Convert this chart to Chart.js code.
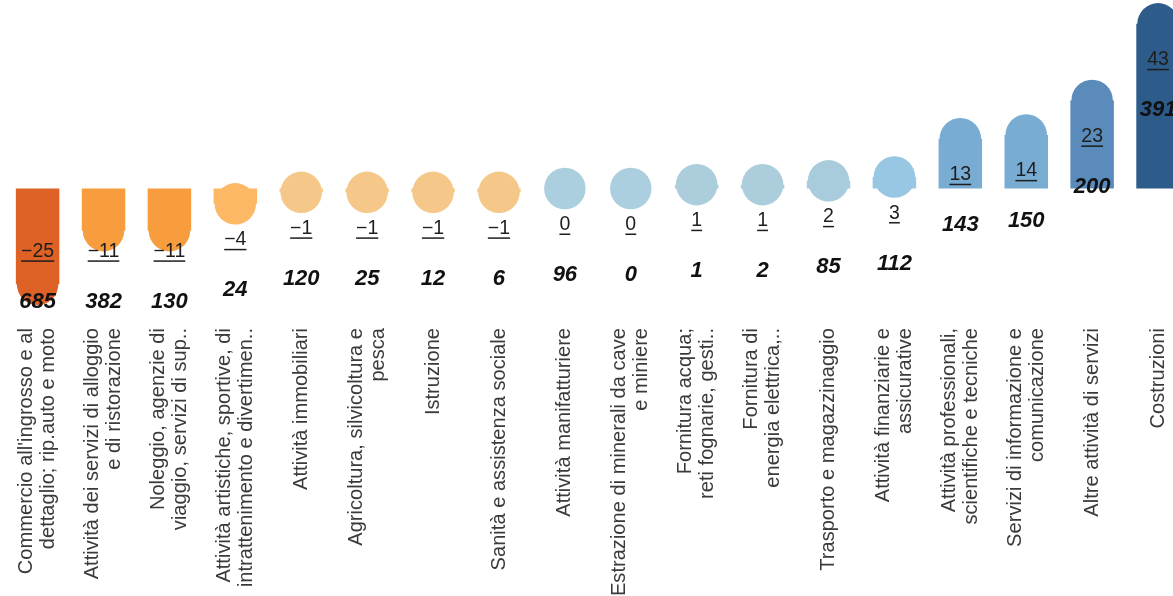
<!DOCTYPE html>
<html>
<head>
<meta charset="utf-8">
<script src="https://cdn.jsdelivr.net/npm/chart.js@4.4.1/dist/chart.umd.min.js"></script>
<style>
  html, body { margin: 0; padding: 0; overflow: hidden; background: #ffffff; }
  #wrap { width: 1191px; height: 596px; }
</style>
</head>
<body>
<div id="wrap"><canvas id="c" width="1191" height="596"></canvas></div>
<script>
// ---- data ----
const categories = [
  ["Commercio all'ingrosso e al", "dettaglio; rip.auto e moto"],
  ["Attività dei servizi di alloggio", "e di ristorazione"],
  ["Noleggio, agenzie di", "viaggio, servizi di sup.."],
  ["Attività artistiche, sportive, di", "intrattenimento e divertimen.."],
  ["Attività immobiliari"],
  ["Agricoltura, silvicoltura e", "pesca"],
  ["Istruzione"],
  ["Sanità e assistenza sociale"],
  ["Attività manifatturiere"],
  ["Estrazione di minerali da cave", "e miniere"],
  ["Fornitura acqua;", "reti fognarie, gesti.."],
  ["Fornitura di", "energia elettrica,.."],
  ["Trasporto e magazzinaggio"],
  ["Attività finanziarie e", "assicurative"],
  ["Attività professionali,", "scientifiche e tecniche"],
  ["Servizi di informazione e", "comunicazione"],
  ["Altre attività di servizi"],
  ["Costruzioni"]
];
const changes = [-25, -11, -11, -4, -1, -1, -1, -1, 0, 0, 1, 1, 2, 3, 13, 14, 23, 43];
const counts  = [685, 382, 130, 24, 120, 25, 12, 6, 96, 0, 1, 2, 85, 112, 143, 150, 200, 391];

// ---- styles ----
const palette = [
  '#DE6125', '#F79D3D', '#F79D3D', '#FDB866',
  '#F5C88A', '#F5C88A', '#F5C88A', '#F5C88A',
  '#ABCFDE', '#ABCFDE', '#ABCDDC', '#ABCDDC', '#A9CCDC', '#98C7E3',
  '#79ACD3', '#79ACD3', '#5A8BBB', '#2D5B8A'
];
const LABEL_FONT = '"Liberation Sans", Arial, sans-serif';

function fmt(v) { return v < 0 ? '\u2212' + Math.abs(v) : String(v); }

const labelsPlugin = {
  id: 'labelsPlugin',
  afterDatasetsDraw(chart) {
    const { ctx } = chart;
    const xs = chart.scales.x, ys = chart.scales.y;
    const clampPix = ys.getPixelForValue(-7);
    ctx.save();
    changes.forEach((v, i) => {
      const cx = xs.getPixelForValue(i);
      const anchor = Math.min(ys.getPixelForValue(v), clampPix);
      // underlined change label
      ctx.font = '19.5px ' + LABEL_FONT;
      ctx.fillStyle = '#1e1e1e';
      ctx.textAlign = 'center';
      ctx.textBaseline = 'alphabetic';
      const txt = fmt(v);
      const base = anchor + 41.5;
      ctx.fillText(txt, cx, base);
      const w = ctx.measureText(txt).width;
      ctx.fillRect(cx - w / 2, base + 3.5, w, 1.5);
      // bold italic count
      ctx.font = 'italic bold 22px ' + LABEL_FONT;
      ctx.fillStyle = '#111111';
      ctx.fillText(String(counts[i]), cx, anchor + 92.5);
    });
    ctx.restore();
  },
  afterDraw(chart) {
    const { ctx } = chart;
    const xs = chart.scales.x;
    const lh = 21.7;
    const top = chart.chartArea.bottom + 10;
    ctx.save();
    ctx.font = '20.1px ' + LABEL_FONT;
    ctx.fillStyle = '#3a3a3a';
    ctx.textAlign = 'right';
    ctx.textBaseline = 'middle';
    categories.forEach((lines, i) => {
      const x = xs.getPixelForValue(i);
      const n = lines.length;
      lines.forEach((line, j) => {
        const cx = x + (j - (n - 1) / 2) * lh;
        ctx.save();
        ctx.translate(cx, top);
        ctx.rotate(-Math.PI / 2);
        ctx.fillText(line, 0, 0);
        ctx.restore();
      });
    });
    ctx.restore();
  }
};

new Chart(document.getElementById('c'), {
  data: {
    labels: categories,
    datasets: [
      {
        type: 'line',
        data: changes,
        showLine: false,
        pointRadius: 20.75,
        pointHoverRadius: 20.75,
        pointBorderWidth: 0,
        pointBackgroundColor: palette,
        order: 1
      },
      {
        type: 'bar',
        data: changes,
        backgroundColor: palette,
        borderWidth: 0,
        barPercentage: 0.66,
        categoryPercentage: 1.0,
        order: 2
      }
    ]
  },
  plugins: [labelsPlugin],
  options: {
    responsive: false,
    animation: false,
    events: [],
    layout: { autoPadding: false, padding: { left: 4.65, right: 0, top: 0, bottom: 278 } },
    plugins: { legend: { display: false }, tooltip: { enabled: false } },
    scales: {
      x: { display: false, offset: true },
      y: { display: false, min: -33.81, max: 49.22 }
    }
  }
});
</script>
</body>
</html>
